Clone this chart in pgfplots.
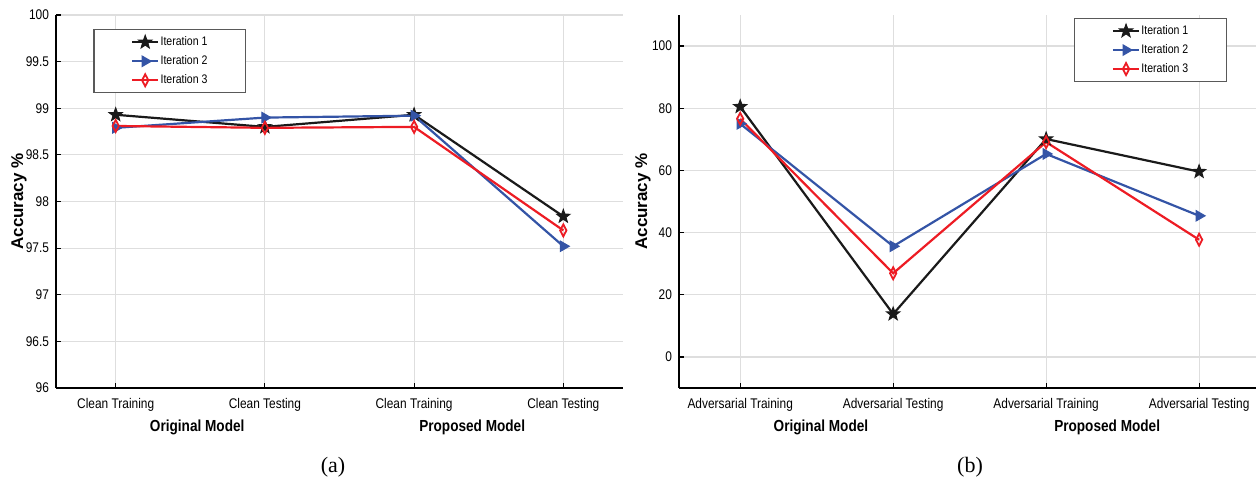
\documentclass[border=0pt]{standalone}
\usepackage{fontspec}
\setmainfont{Liberation Sans}[FakeStretch=0.85]
\newfontfamily\widefont{Liberation Sans}
\newfontfamily\capfont{Liberation Serif}
\usepackage{pgfplots}
\pgfplotsset{compat=1.18}
\usetikzlibrary{plotmarks}
\definecolor{c1}{RGB}{26,26,26}
\definecolor{c2}{RGB}{52,84,166}
\definecolor{c3}{RGB}{237,28,36}
\definecolor{gridc}{RGB}{222,222,222}
\pgfdeclareplotmark{fstar}{%
\pgfpathmoveto{\pgfpointpolar{90}{1.15\pgfplotmarksize}}%
\pgfpathlineto{\pgfpointpolar{126}{0.47\pgfplotmarksize}}%
\pgfpathlineto{\pgfpointpolar{162}{1.15\pgfplotmarksize}}%
\pgfpathlineto{\pgfpointpolar{198}{0.47\pgfplotmarksize}}%
\pgfpathlineto{\pgfpointpolar{234}{1.15\pgfplotmarksize}}%
\pgfpathlineto{\pgfpointpolar{270}{0.47\pgfplotmarksize}}%
\pgfpathlineto{\pgfpointpolar{306}{1.15\pgfplotmarksize}}%
\pgfpathlineto{\pgfpointpolar{342}{0.47\pgfplotmarksize}}%
\pgfpathlineto{\pgfpointpolar{18}{1.15\pgfplotmarksize}}%
\pgfpathlineto{\pgfpointpolar{54}{0.47\pgfplotmarksize}}%
\pgfpathclose\pgfusepathqfillstroke}
\pgfplotsset{
 myax/.style={scale only axis, axis x line*=bottom, axis y line*=left,
  axis line style={line width=0.7pt,black},
  xmin=-0.4, xtick={0,1,2,3}, grid=major,
  major grid style={gridc, line width=0.6pt},
  tick align=inside, major tick length=2.5pt, tick style={black, line width=0.6pt},
  tick label style={font=\fontsize{7}{8}\selectfont},
  xticklabel style={yshift=-1.5pt},
  /pgf/number format/assume math mode=true,
  ylabel={Accuracy \%},
  legend cell align=left,
  legend style={draw=black!65, line width=0.6pt, fill=white,
    font=\fontsize{6.2}{7}\selectfont, inner xsep=18.5pt, inner ysep=1.5pt,
    nodes={inner sep=0.6pt, minimum height=9.5pt, anchor=west}},
  legend image code/.code={\draw[mark repeat=2,mark phase=2] plot coordinates {(0cm,0cm)(0.23cm,0cm)(0.46cm,0cm)};},
  clip=false},
 s1/.style={c1, line width=1.1pt, mark=fstar, mark size=3pt, mark options={solid, fill=c1, line width=0.5pt}},
 s2/.style={c2, line width=1.1pt, mark=triangle*, mark size=3pt, mark options={solid, rotate=-90, fill=c2, line width=0.5pt}},
 s3/.style={c3, line width=1.1pt, mark=diamond, mark size=3pt, mark options={solid, fill=white, xscale=0.7, line width=0.9pt}},
}
\begin{document}
\begin{tikzpicture}
\path[use as bounding box] (0,0) rectangle (628pt,-242.5pt);
\begin{axis}[myax, at={(28pt,-194pt)}, anchor=south west,
  width=283.5pt, height=186.5pt, xmax=3.4, ymin=96, ymax=100,
  ytick={96,96.5,...,100},
  xticklabels={Clean Training,Clean Testing,Clean Training,Clean Testing},
  ylabel style={at={(axis description cs:-0.0653,0.5)}, anchor=center,
    font=\widefont\bfseries\fontsize{8.5}{9}\selectfont},
  legend style={at={(axis description cs:0.066,0.962)}, anchor=north west}]
\addplot[s1] coordinates {(0,98.93) (1,98.80) (2,98.93) (3,97.84)};
\addplot[s2] coordinates {(0,98.79) (1,98.90) (2,98.92) (3,97.52)};
\addplot[s3] coordinates {(0,98.81) (1,98.79) (2,98.80) (3,97.69)};
\legend{Iteration 1,Iteration 2,Iteration 3}
\node[font=\bfseries\fontsize{8}{9}\selectfont] at (axis description cs:0.249,0) [yshift=-19.5pt] {Original Model};
\node[font=\bfseries\fontsize{8}{9}\selectfont] at (axis description cs:0.734,0) [yshift=-19.5pt] {Proposed Model};
\end{axis}
\begin{axis}[myax, at={(339.5pt,-194pt)}, anchor=south west,
  width=288.5pt, height=186.5pt, xmax=3.372, ymin=-10, ymax=110,
  ytick={0,20,...,100},
  xticklabels={Adversarial Training,Adversarial Testing,Adversarial Training,Adversarial Testing},
  ylabel style={at={(axis description cs:-0.0624,0.5)}, anchor=center,
    font=\widefont\bfseries\fontsize{8.5}{9}\selectfont},
  legend style={at={(axis description cs:0.685,0.992)}, anchor=north west}]
\addplot[s1] coordinates {(0,80.5) (1,13.8) (2,70.1) (3,59.6)};
\addplot[s2] coordinates {(0,75.0) (1,35.6) (2,65.3) (3,45.4)};
\addplot[s3] coordinates {(0,76.6) (1,26.9) (2,69.1) (3,37.7)};
\legend{Iteration 1,Iteration 2,Iteration 3}
\node[font=\bfseries\fontsize{8}{9}\selectfont] at (axis description cs:0.246,0) [yshift=-19.5pt] {Original Model};
\node[font=\bfseries\fontsize{8}{9}\selectfont] at (axis description cs:0.742,0) [yshift=-19.5pt] {Proposed Model};
\end{axis}
\node[font=\capfont\fontsize{11}{13}\selectfont] at (166.5pt,-233.5pt) {(a)};
\node[font=\capfont\fontsize{11}{13}\selectfont] at (485pt,-233.5pt) {(b)};
\end{tikzpicture}
\end{document}
